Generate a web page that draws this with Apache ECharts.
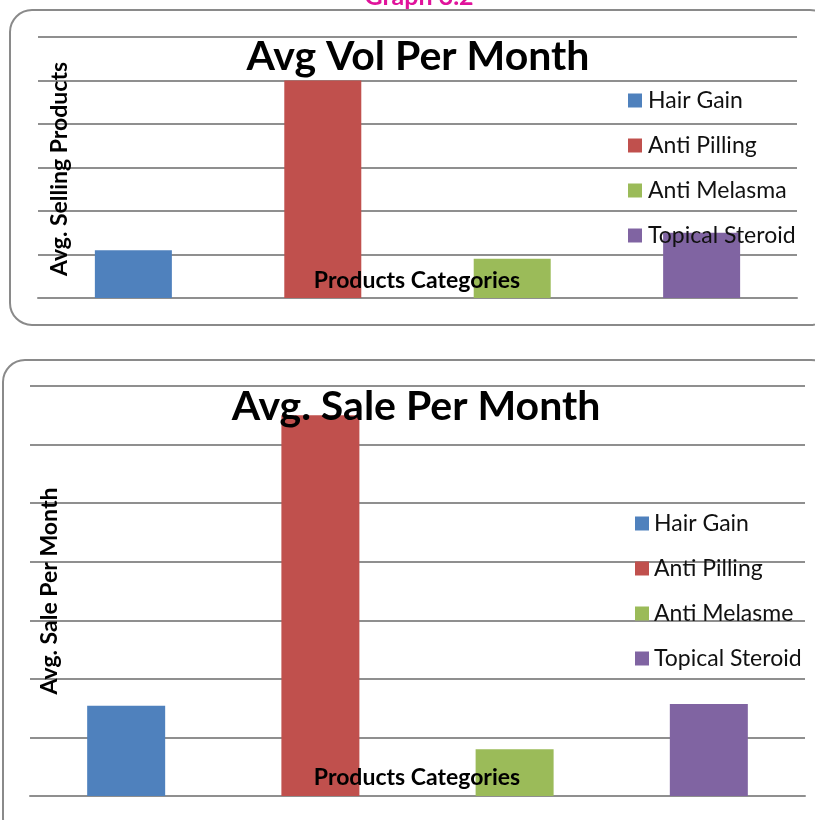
<!DOCTYPE html>
<html>
<head>
<meta charset="utf-8">
<script src="https://cdn.jsdelivr.net/npm/echarts@6/dist/echarts.min.js"></script>
<style>
  html, body { margin: 0; padding: 0; background: #fff; }
  #chart { width: 815px; height: 820px; }
</style>
</head>
<body>
<div id="chart"></div>
<script>
// Product categories shown as separate series in both panels
const volSeriesNames = ['Hair Gain', 'Anti Pilling', 'Anti Melasma', 'Topical Steroid'];
const saleSeriesNames = ['Hair Gain', 'Anti Pilling', 'Anti Melasme', 'Topical Steroid'];
const seriesColors = ['#4f81bd', '#c0504d', '#9bbb59', '#8064a2'];

// Average monthly volume (gridline units)
const volValues = [1.1, 5.0, 0.9, 1.5];
// Average monthly sale (gridline units)
const saleValues = [1.54, 6.5, 0.8, 1.57];

const category = ['Products Categories'];

const font = 'Lato, "Open Sans", sans-serif';
const gridLine = { lineStyle: { color: '#8f8f8f', width: 2 } };

function barSeries(names, values, axisIndex, width, gap) {
  return names.map((n, i) => ({
    name: n,
    type: 'bar',
    xAxisIndex: axisIndex,
    yAxisIndex: axisIndex,
    data: [values[i]],
    barWidth: width,
    barGap: gap,
    itemStyle: { color: seriesColors[i] },
    animation: false
  }));
}

function legendFor(names, top, left, pad) {
  return {
    data: names,
    orient: 'vertical',
    left: left,
    top: top,
    padding: 0,
    itemWidth: 14,
    itemHeight: 14,
    itemGap: 22,
    icon: 'rect',
    textStyle: { fontFamily: font, fontSize: 23, color: '#111', padding: [0, 0, 0, pad] }
  };
}

function label(text, x, y, size, opts) {
  return Object.assign({
    type: 'text', x: x, y: y, z: 100,
    style: {
      text: text, fontFamily: font, fontSize: size, fontWeight: 'bold',
      fill: '#000', align: 'center', verticalAlign: 'middle'
    }
  }, opts || {});
}

const chart = echarts.init(document.getElementById('chart'));
chart.setOption({
  backgroundColor: '#fff',
  animation: false,
  legend: [
    legendFor(volSeriesNames, 89, 628, 1),
    legendFor(saleSeriesNames, 512, 635, 0)
  ],
  graphic: [
    { type: 'rect', shape: { x: 10, y: 10, width: 822, height: 315, r: 22 },
      style: { fill: 'none', stroke: '#8a8a8a', lineWidth: 2 }, z: -1 },
    { type: 'rect', shape: { x: 3, y: 360, width: 830, height: 480, r: 22 },
      style: { fill: 'none', stroke: '#8a8a8a', lineWidth: 2 }, z: -1 },
    // page caption above the first panel
    { type: 'text', x: 419, y: 9, z: 100,
      style: { text: 'Graph 3.2', fontFamily: font, fontSize: 25, fontWeight: 'bold',
               fill: '#e0139b', align: 'center', verticalAlign: 'bottom' } },
    // panel titles
    label('Avg Vol Per Month', 418, 57, 41),
    label('Avg. Sale Per Month', 416, 407, 41),
    // category axis captions, drawn over the bars
    label(category[0], 417, 281, 23),
    label(category[0], 417, 778, 23),
    // value axis captions
    label('Avg. Selling Products', 60, 169, 23, { rotation: Math.PI / 2 }),
    label('Avg. Sale Per Month', 50, 591, 23, { rotation: Math.PI / 2 })
  ],
  grid: [
    { left: 38, right: 18, top: 37, height: 261 },
    { left: 30, right: 10, top: 386, height: 410 }
  ],
  xAxis: [0, 1].map(i => ({
    type: 'category',
    gridIndex: i,
    data: category,
    axisLine: { lineStyle: { color: '#8f8f8f', width: 2 } },
    axisTick: { show: false },
    axisLabel: { show: false }
  })),
  yAxis: [
    { type: 'value', gridIndex: 0, min: 0, max: 6, interval: 1,
      axisLabel: { show: false }, axisLine: { show: false }, axisTick: { show: false },
      splitLine: gridLine },
    { type: 'value', gridIndex: 1, min: 0, max: 7, interval: 1,
      axisLabel: { show: false }, axisLine: { show: false }, axisTick: { show: false },
      splitLine: gridLine }
  ],
  series: [
    ...barSeries(volSeriesNames, volValues, 0, 77, '146%'),
    ...barSeries(saleSeriesNames, saleValues, 1, 78, '149%')
  ]
});
</script>
</body>
</html>
